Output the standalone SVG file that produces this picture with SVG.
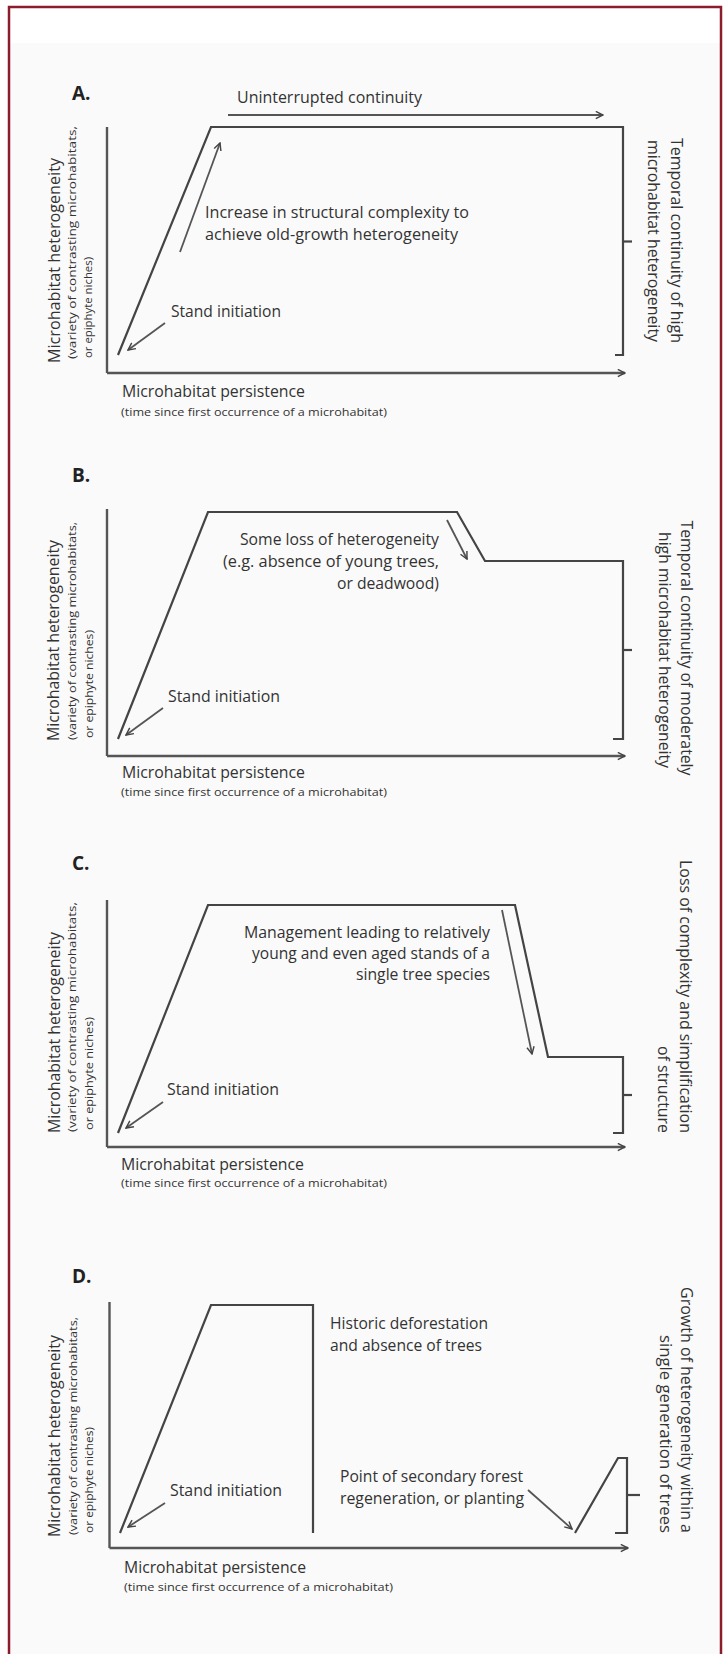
<svg xmlns="http://www.w3.org/2000/svg" width="725" height="1654" viewBox="0 0 725 1654">
<style>
.t{font-family:"Open Sans","Liberation Sans",sans-serif;font-size:16px;fill:#333}
.s{font-size:11.5px}
.h{font-family:"Open Sans","Liberation Sans",sans-serif;font-size:19px;font-weight:bold;fill:#222}
.ln{fill:none;stroke:#444;stroke-width:2.2;stroke-linejoin:miter}
.ax{fill:none;stroke:#555;stroke-width:2.4}
.ar{fill:none;stroke:#555;stroke-width:1.8}
</style>
<defs>
<marker id="chev" viewBox="0 0 10 10" refX="9" refY="5" markerWidth="9" markerHeight="9" orient="auto" markerUnits="userSpaceOnUse">
<path d="M1,1 L9,5 L1,9" fill="none" stroke="#444" stroke-width="1.6"/>
</marker>
</defs>
<rect x="0" y="0" width="725" height="1654" fill="#ffffff"/>
<rect x="10" y="43" width="711" height="1611" fill="#fafafa"/>
<rect x="9" y="7" width="712" height="1660" fill="none" stroke="#8b1c2c" stroke-width="2.5"/>

<!-- Panel A -->
<g id="panel-A">
<text class="h" x="72" y="100">A.</text>
<g id="A-axes">
<line class="ax" x1="107" y1="127" x2="107" y2="373"/>
<line class="ax" x1="107" y1="373" x2="625" y2="373" marker-end="url(#chev)"/>
</g>
<g id="A-curve">
<path class="ln" d="M118,355 L211,127 H623 V355 H615"/>
<path class="ln" d="M623,241.5 H632"/>
</g>
<g id="A-labels">
<text class="t" x="237" y="103" textLength="185" lengthAdjust="spacingAndGlyphs">Uninterrupted continuity</text>
<text class="t" x="205" y="218" textLength="264" lengthAdjust="spacingAndGlyphs">Increase in structural complexity to</text>
<text class="t" x="205" y="240" textLength="253" lengthAdjust="spacingAndGlyphs">achieve old-growth heterogeneity</text>
<text class="t" x="171" y="317" textLength="110" lengthAdjust="spacingAndGlyphs">Stand initiation</text>
<text class="t" x="122" y="397" textLength="183" lengthAdjust="spacingAndGlyphs">Microhabitat persistence</text>
<text class="t s" x="121" y="416" textLength="266" lengthAdjust="spacingAndGlyphs">(time since first occurrence of a microhabitat)</text>
<text class="t" transform="translate(60,363) rotate(-90)" textLength="205" lengthAdjust="spacingAndGlyphs">Microhabitat heterogeneity</text>
<text class="t s" transform="translate(76,359) rotate(-90)" textLength="233" lengthAdjust="spacingAndGlyphs">(variety of contrasting microhabitats,</text>
<text class="t s" transform="translate(92,358) rotate(-90)" textLength="101" lengthAdjust="spacingAndGlyphs">or epiphyte niches)</text>
<text class="t" transform="translate(671,240.5) rotate(90)" text-anchor="middle" textLength="205" lengthAdjust="spacingAndGlyphs">Temporal continuity of high</text>
<text class="t" transform="translate(648,241) rotate(90)" text-anchor="middle" textLength="202" lengthAdjust="spacingAndGlyphs">microhabitat heterogeneity</text>
</g>
</g>

<!-- Panel B -->
<g id="panel-B">
<text class="h" x="72" y="482">B.</text>
<g id="B-axes">
<line class="ax" x1="107" y1="509" x2="107" y2="756"/>
<line class="ax" x1="107" y1="756" x2="625" y2="756" marker-end="url(#chev)"/>
</g>
<g id="B-curve">
<path class="ln" d="M118,739 L208,512 H457 L485,561 H623 V739 H613"/>
<path class="ln" d="M623,650 H632"/>
</g>
<g id="B-labels">
<text class="t" x="439" y="545" text-anchor="end" textLength="199" lengthAdjust="spacingAndGlyphs">Some loss of heterogeneity</text>
<text class="t" x="439" y="567" text-anchor="end" textLength="216" lengthAdjust="spacingAndGlyphs">(e.g. absence of young trees,</text>
<text class="t" x="439" y="589" text-anchor="end" textLength="102" lengthAdjust="spacingAndGlyphs">or deadwood)</text>
<text class="t" x="168" y="702" textLength="112" lengthAdjust="spacingAndGlyphs">Stand initiation</text>
<text class="t" x="122" y="778" textLength="183" lengthAdjust="spacingAndGlyphs">Microhabitat persistence</text>
<text class="t s" x="121" y="796" textLength="266" lengthAdjust="spacingAndGlyphs">(time since first occurrence of a microhabitat)</text>
<text class="t" transform="translate(59,741) rotate(-90)" textLength="201" lengthAdjust="spacingAndGlyphs">Microhabitat heterogeneity</text>
<text class="t s" transform="translate(76,740) rotate(-90)" textLength="218" lengthAdjust="spacingAndGlyphs">(variety of contrasting microhabitats,</text>
<text class="t s" transform="translate(93,738) rotate(-90)" textLength="108" lengthAdjust="spacingAndGlyphs">or epiphyte niches)</text>
<text class="t" transform="translate(681,648) rotate(90)" text-anchor="middle" textLength="255" lengthAdjust="spacingAndGlyphs">Temporal continuity of moderately</text>
<text class="t" transform="translate(659,650) rotate(90)" text-anchor="middle" textLength="236" lengthAdjust="spacingAndGlyphs">high microhabitat heterogeneity</text>
</g>
</g>

<!-- Panel C -->
<g id="panel-C">
<text class="h" x="72" y="870">C.</text>
<g id="C-axes">
<line class="ax" x1="107" y1="900" x2="107" y2="1147"/>
<line class="ax" x1="107" y1="1147" x2="625" y2="1147" marker-end="url(#chev)"/>
</g>
<g id="C-curve">
<path class="ln" d="M118,1133 L208,905 H515 L548,1057 H623 V1133 H613"/>
<path class="ln" d="M623,1095 H632"/>
</g>
<g id="C-labels">
<text class="t" x="490" y="938" text-anchor="end" textLength="246" lengthAdjust="spacingAndGlyphs">Management leading to relatively</text>
<text class="t" x="490" y="959" text-anchor="end" textLength="238" lengthAdjust="spacingAndGlyphs">young and even aged stands of a</text>
<text class="t" x="490" y="980" text-anchor="end" textLength="134" lengthAdjust="spacingAndGlyphs">single tree species</text>
<text class="t" x="167" y="1095" textLength="112" lengthAdjust="spacingAndGlyphs">Stand initiation</text>
<text class="t" x="121" y="1170" textLength="183" lengthAdjust="spacingAndGlyphs">Microhabitat persistence</text>
<text class="t s" x="121" y="1187" textLength="266" lengthAdjust="spacingAndGlyphs">(time since first occurrence of a microhabitat)</text>
<text class="t" transform="translate(60,1133) rotate(-90)" textLength="201" lengthAdjust="spacingAndGlyphs">Microhabitat heterogeneity</text>
<text class="t s" transform="translate(76,1132) rotate(-90)" textLength="230" lengthAdjust="spacingAndGlyphs">(variety of contrasting microhabitats,</text>
<text class="t s" transform="translate(93,1130) rotate(-90)" textLength="113" lengthAdjust="spacingAndGlyphs">or epiphyte niches)</text>
<text class="t" transform="translate(680,1133) rotate(90)" text-anchor="end" textLength="273" lengthAdjust="spacingAndGlyphs">Loss of complexity and simplification</text>
<text class="t" transform="translate(658,1133) rotate(90)" text-anchor="end" textLength="87" lengthAdjust="spacingAndGlyphs">of structure</text>
</g>
</g>

<!-- Panel D -->
<g id="panel-D">
<text class="h" x="72" y="1283">D.</text>
<g id="D-axes">
<line class="ax" x1="109.5" y1="1302" x2="109.5" y2="1548"/>
<line class="ax" x1="109.5" y1="1548" x2="628" y2="1548" marker-end="url(#chev)"/>
</g>
<g id="D-curve">
<path class="ln" d="M120,1533 L211,1305 H313 V1533"/>
<path class="ln" d="M575,1533 L618,1458 H627 V1533 H615"/>
<path class="ln" d="M627,1495 H640"/>
</g>
<g id="D-labels">
<text class="t" x="330" y="1329" textLength="158" lengthAdjust="spacingAndGlyphs">Historic deforestation</text>
<text class="t" x="330" y="1351" textLength="152" lengthAdjust="spacingAndGlyphs">and absence of trees</text>
<text class="t" x="340" y="1482" textLength="183" lengthAdjust="spacingAndGlyphs">Point of secondary forest</text>
<text class="t" x="340" y="1504" textLength="184" lengthAdjust="spacingAndGlyphs">regeneration, or planting</text>
<text class="t" x="170" y="1496" textLength="112" lengthAdjust="spacingAndGlyphs">Stand initiation</text>
<text class="t" x="124" y="1573" textLength="182" lengthAdjust="spacingAndGlyphs">Microhabitat persistence</text>
<text class="t s" x="124" y="1591" textLength="269" lengthAdjust="spacingAndGlyphs">(time since first occurrence of a microhabitat)</text>
<text class="t" transform="translate(60,1537) rotate(-90)" textLength="202" lengthAdjust="spacingAndGlyphs">Microhabitat heterogeneity</text>
<text class="t s" transform="translate(77,1535) rotate(-90)" textLength="218" lengthAdjust="spacingAndGlyphs">(variety of contrasting microhabitats,</text>
<text class="t s" transform="translate(93,1533) rotate(-90)" textLength="106" lengthAdjust="spacingAndGlyphs">or epiphyte niches)</text>
<text class="t" transform="translate(681,1533) rotate(90)" text-anchor="end" textLength="246" lengthAdjust="spacingAndGlyphs">Growth of heterogeneity within a</text>
<text class="t" transform="translate(660,1533) rotate(90)" text-anchor="end" textLength="198" lengthAdjust="spacingAndGlyphs">single generation of trees</text>
</g>
</g>

<!-- Connectors (annotation arrows) -->
<g id="connectors">
<line class="ar" x1="228" y1="115" x2="603" y2="115" marker-end="url(#chev)"/>
<line class="ar" x1="180" y1="252" x2="220" y2="143" marker-end="url(#chev)"/>
<line class="ar" x1="165" y1="323" x2="128" y2="350" marker-end="url(#chev)"/>
<line class="ar" x1="447" y1="520" x2="467" y2="559" marker-end="url(#chev)"/>
<line class="ar" x1="163" y1="708" x2="126" y2="735" marker-end="url(#chev)"/>
<line class="ar" x1="502" y1="910" x2="532" y2="1054" marker-end="url(#chev)"/>
<line class="ar" x1="163" y1="1102" x2="126" y2="1128" marker-end="url(#chev)"/>
<line class="ar" x1="528" y1="1490" x2="572" y2="1529" marker-end="url(#chev)"/>
<line class="ar" x1="165" y1="1503" x2="128" y2="1527" marker-end="url(#chev)"/>
</g>
</svg>
